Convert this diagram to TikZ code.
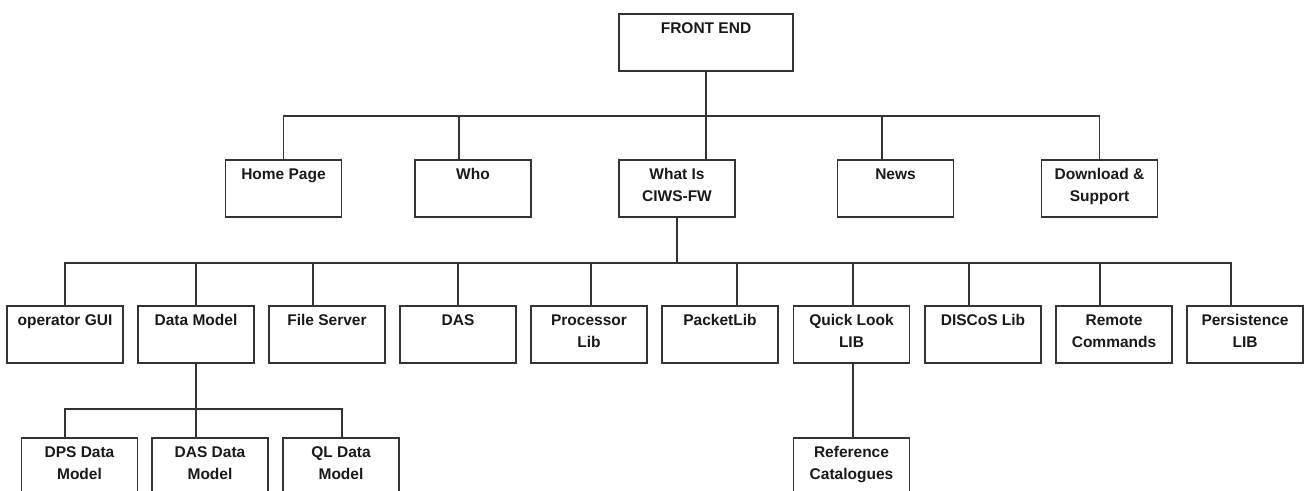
\documentclass[tikz,border=0pt]{standalone}
\usepackage{fontspec}
\setmainfont{Liberation Sans}
\usepackage{tikz}
\definecolor{linegray}{HTML}{333333}

\newcommand{\boxtext}[1]{\parbox[c][57pt][t]{116pt}{\centering\rule{0pt}{19pt}#1}}

\begin{document}
\begin{tikzpicture}
      [x=1pt, y=1pt,
       box/.style={draw=linegray, line width=1.2pt, inner sep=0pt,
         minimum width=116pt, minimum height=57pt,
         font=\fontsize{15.5}{22}\selectfont\bfseries, text=black!90},
       wire/.style={draw=linegray, line width=1.2pt}]
      \clip (0, 0) rectangle (1306, -490);

      % top
      \node (fe) [box, minimum width=174pt] at (706, -42.5) {\boxtext{FRONT END}};

      % first level
      \node (hp) [box] at (283.5, -188.5) {\boxtext{Home Page}};
      \node (who) [box] at (473, -188.5) {\boxtext{Who}};
      \node (what) [box] at (677, -188.5) {\boxtext{What Is\\CIWS-FW}};
      \node (news) [box] at (895.5, -188.5) {\boxtext{News}};
      \node (dl) [box] at (1099.5, -188.5) {\boxtext{Download \&\\Support}};

      % second level
      \node (gui) [box] at (65, -334.5) {\boxtext{operator GUI}};
      \node (dm) [box] at (196, -334.5) {\boxtext{Data Model}};
      \node (fs) [box] at (327, -334.5) {\boxtext{File Server}};
      \node (das) [box] at (458, -334.5) {\boxtext{DAS}};
      \node (proc) [box] at (589, -334.5) {\boxtext{Processor\\Lib}};
      \node (pkt) [box] at (720, -334.5) {\boxtext{PacketLib}};
      \node (ql) [box] at (851.5, -334.5) {\boxtext{Quick Look\\LIB}};
      \node (disc) [box] at (983, -334.5) {\boxtext{DISCoS Lib}};
      \node (rem) [box] at (1114, -334.5) {\boxtext{Remote\\Commands}};
      \node (pers) [box] at (1245, -334.5) {\boxtext{Persistence\\LIB}};

      % third level
      \node (dps) [box] at (79.5, -466.5) {\boxtext{DPS Data\\Model}};
      \node (dasdm) [box] at (210, -466.5) {\boxtext{DAS Data\\Model}};
      \node (qldm) [box] at (341, -466.5) {\boxtext{QL Data\\Model}};
      \node (ref) [box] at (851.5, -466.5) {\boxtext{Reference\\Catalogues}};

      \coordinate (b1) at (0, -116);
      \coordinate (b2) at (0, -263);
      \coordinate (b3) at (0, -409);

      \draw [wire] (fe.south) -- (fe.south |- b1);
      \draw [wire] (hp.north) |- (fe.south |- b1);
      \draw [wire] ([xshift=-14pt]who.north) |- (fe.south |- b1);
      \draw [wire] ([xshift=29pt]what.north) |- (fe.south |- b1);
      \draw [wire] ([xshift=-13.5pt]news.north) |- (fe.south |- b1);
      \draw [wire] (dl.north) |- (fe.south |- b1);

      \draw [wire] (what.south) -- (what.south |- b2);
      \draw [wire] (gui.north) |- (what.south |- b2);
      \draw [wire] (dm.north) |- (what.south |- b2);
      \draw [wire] ([xshift=-14pt]fs.north) |- (what.south |- b2);
      \draw [wire] (das.north) |- (what.south |- b2);
      \draw [wire] ([xshift=2pt]proc.north) |- (what.south |- b2);
      \draw [wire] ([xshift=17pt]pkt.north) |- (what.south |- b2);
      \draw [wire] ([xshift=1.5pt]ql.north) |- (what.south |- b2);
      \draw [wire] ([xshift=-14pt]disc.north) |- (what.south |- b2);
      \draw [wire] ([xshift=-14pt]rem.north) |- (what.south |- b2);
      \draw [wire] ([xshift=-14pt]pers.north) |- (what.south |- b2);

      \draw [wire] (dm.south) -- (dm.south |- b3);
      \draw [wire] ([xshift=-14.5pt]dps.north) |- (dm.south |- b3);
      \draw [wire] ([xshift=-14pt]dasdm.north) |- (dm.south |- b3);
      \draw [wire] ([xshift=1pt]qldm.north) |- (dm.south |- b3);

      \draw [wire] ([xshift=1.5pt]ql.south) -- ([xshift=1.5pt]ref.north);
    \end{tikzpicture}
\end{document}
